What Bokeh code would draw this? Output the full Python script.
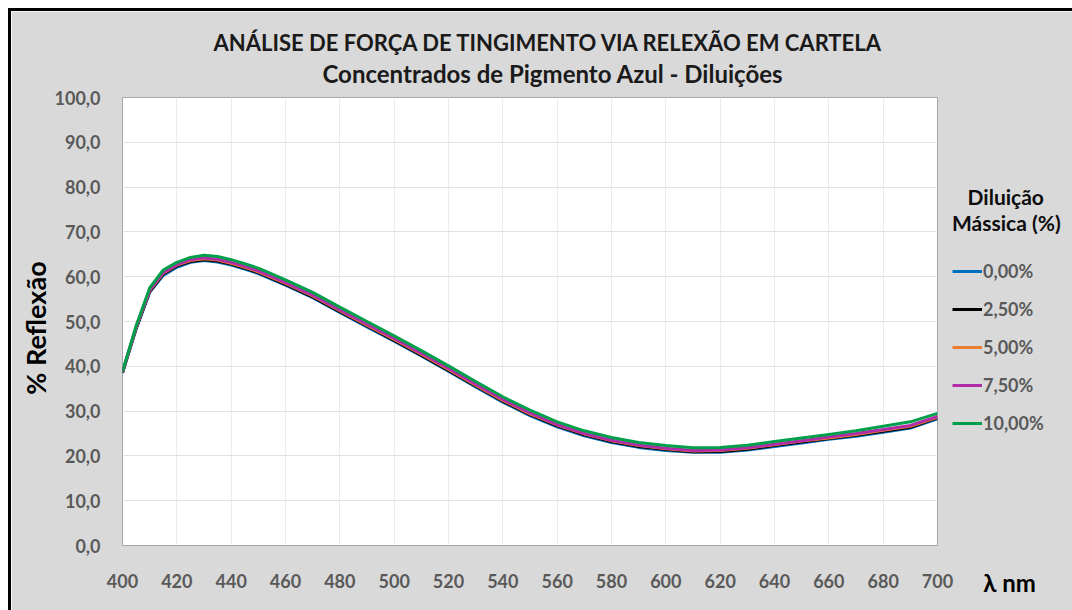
from bokeh.plotting import figure
from bokeh.models import Legend, LegendItem, FixedTicker, Range1d, Title, LinearAxis
from bokeh.embed import file_html
from bokeh.resources import INLINE

FONT = "Lato"

# ---- data ----
wavelength = [400, 405, 410, 415, 420, 425, 430, 435, 440, 445, 450, 460, 470, 480, 490,
              500, 510, 520, 530, 540, 550, 560, 570, 580, 590, 600, 610, 620, 630, 640,
              650, 660, 670, 680, 690, 700]

refl_000 = [38.5, 48.3, 56.5, 60.3, 62.1, 63.2, 63.6, 63.3, 62.6, 61.7, 60.7, 58.1, 55.3, 52.0, 48.8,
            45.6, 42.3, 38.9, 35.4, 32.0, 29.0, 26.5, 24.5, 23.0, 21.9, 21.2, 20.8, 20.8, 21.3, 22.1,
            22.9, 23.7, 24.4, 25.3, 26.2, 28.3]
refl_250 = [38.6, 48.5, 56.7, 60.6, 62.4, 63.4, 63.8, 63.5, 62.8, 61.9, 60.9, 58.3, 55.5, 52.2, 49.0,
            45.8, 42.5, 39.1, 35.6, 32.2, 29.2, 26.7, 24.7, 23.2, 22.1, 21.4, 20.9, 21.0, 21.5, 22.3,
            23.1, 23.9, 24.6, 25.5, 26.4, 28.5]
refl_500 = [38.7, 48.7, 56.9, 60.8, 62.6, 63.6, 64.0, 63.7, 63.0, 62.1, 61.1, 58.5, 55.7, 52.4, 49.2,
            46.0, 42.7, 39.3, 35.8, 32.4, 29.4, 26.9, 24.9, 23.4, 22.3, 21.6, 21.1, 21.2, 21.7, 22.5,
            23.3, 24.0, 24.8, 25.7, 26.6, 28.6]
refl_750 = [38.7, 48.8, 57.0, 60.9, 62.7, 63.8, 64.2, 63.9, 63.2, 62.3, 61.3, 58.7, 55.9, 52.6, 49.4,
            46.2, 42.9, 39.5, 36.0, 32.6, 29.6, 27.0, 25.0, 23.5, 22.4, 21.7, 21.2, 21.3, 21.8, 22.6,
            23.4, 24.2, 25.0, 25.9, 26.8, 28.8]
refl_1000 = [38.8, 49.0, 57.5, 61.5, 63.2, 64.3, 64.8, 64.5, 63.8, 62.9, 61.9, 59.3, 56.5, 53.2, 50.0,
             46.8, 43.5, 40.1, 36.6, 33.2, 30.2, 27.6, 25.6, 24.1, 23.0, 22.3, 21.8, 21.9, 22.4, 23.2,
             24.0, 24.8, 25.6, 26.6, 27.6, 29.5]

series_labels = ["0,00%", "2,50%", "5,00%", "7,50%", "10,00%"]
series_values = [refl_000, refl_250, refl_500, refl_750, refl_1000]
series_colors = ["#0070c0", "#000000", "#ed7d31", "#b02ca8", "#00a04a"]

x_ticks = list(range(400, 701, 20))
y_ticks = [0, 10, 20, 30, 40, 50, 60, 70, 80, 90, 100]
y_tick_labels = ["0,0", "10,0", "20,0", "30,0", "40,0", "50,0", "60,0", "70,0", "80,0", "90,0", "100,0"]

title_text = "ANÁLISE DE FORÇA DE TINGIMENTO VIA RELEXÃO EM CARTELA"
subtitle_text = "Concentrados de Pigmento Azul - Diluições"
legend_title_lines = ["Diluição", "Mássica (%)"]
x_title = "λ nm"
y_title = "% Reflexão"

# ---- figure ----
p = figure(frame_width=815, frame_height=448,
           min_border_left=111, min_border_right=135, min_border_top=86, min_border_bottom=65,
           x_range=Range1d(400, 700), y_range=Range1d(0, 100),
           output_backend="svg", toolbar_location=None,
           background_fill_color="white", border_fill_color="#d9d9d9",
           outline_line_color="#a6a6a6", outline_line_width=1,
           styles={"margin-left": "8px", "margin-top": "8px",
                   "border-left": "3px solid black", "border-top": "3px solid black"})

p.xaxis.ticker = FixedTicker(ticks=x_ticks)
p.yaxis.ticker = FixedTicker(ticks=y_ticks)
p.yaxis.major_label_overrides = {t: s for t, s in zip(y_ticks, y_tick_labels)}

for ax in (p.xaxis, p.yaxis):
    ax.axis_line_color = None
    ax.major_tick_line_color = None
    ax.minor_tick_line_color = None
    ax.major_tick_out = 0
    ax.minor_tick_out = 0
    ax.major_label_text_font = FONT
    ax.major_label_text_font_style = "bold"
    ax.major_label_text_font_size = "18px"
    ax.major_label_text_color = "#595959"

p.xaxis.major_label_standoff = 28
p.yaxis.major_label_standoff = 22
p.yaxis.axis_label = y_title + "\u00a0\u00a0"
p.yaxis.axis_label_text_font = FONT
p.yaxis.axis_label_text_font_style = "bold"
p.yaxis.axis_label_text_font_size = "27px"
p.yaxis.axis_label_text_color = "#000000"
p.yaxis.axis_label_standoff = 0

p.xgrid.grid_line_color = "#ececec"
p.ygrid.grid_line_color = "#e3e3e3"

renderers = []
for vals, col in zip(series_values, series_colors):
    r = p.line(wavelength, vals, line_color=col, line_width=3)
    renderers.append(r)

# main legend in right panel (tuple = offset of its bottom-left from the panel's bottom-left)
items = [LegendItem(label=lab, renderers=[r]) for lab, r in zip(series_labels, renderers)]
legend = Legend(items=items, location=(15, 111), orientation="vertical",
                margin=0, padding=0, spacing=16, glyph_width=30, glyph_height=20,
                label_height=20, label_standoff=1,
                label_text_font=FONT, label_text_font_style="bold",
                label_text_font_size="18px", label_text_color="#595959",
                title=legend_title_lines[1], title_text_font=FONT, title_text_font_style="bold",
                title_text_font_size="21px", title_text_color="#0d0d0d", title_standoff=25,
                border_line_color=None, background_fill_alpha=0)
p.add_layout(legend, "right")

# titles
p.add_layout(Title(text=subtitle_text, align="left", offset=200, standoff=20,
                   text_font=FONT, text_font_style="bold", text_font_size="24px",
                   text_color="#1a1a1a"), "above")
p.add_layout(Title(text=title_text, align="left", offset=91, standoff=-18,
                   text_font=FONT, text_font_style="bold", text_font_size="22px",
                   text_color="#1a1a1a"), "above")


def text_axis(tick, text, size, color, standoff):
    # a bare axis whose single tick label carries a text outside the frame
    return LinearAxis(ticker=FixedTicker(ticks=[tick], minor_ticks=[]),
                      major_label_overrides={tick: text},
                      major_label_standoff=standoff,
                      major_label_text_font=FONT, major_label_text_font_style="bold",
                      major_label_text_font_size=size, major_label_text_color=color,
                      axis_line_color=None, major_tick_line_color=None, minor_tick_line_color=None,
                      major_tick_out=0, minor_tick_out=0)


EM = "\u2003"
EN = "\u2002"
# x-axis title at the right end of the tick-label row
p.add_layout(text_axis(700, EM * 8 + x_title, "24px", "#000000", -23), "below")
# first line of the legend title
p.add_layout(text_axis(700, EM * 8 + EN + legend_title_lines[0], "21px", "#0d0d0d", -416), "below")

open("out.html", "w").write(file_html(p, INLINE))
